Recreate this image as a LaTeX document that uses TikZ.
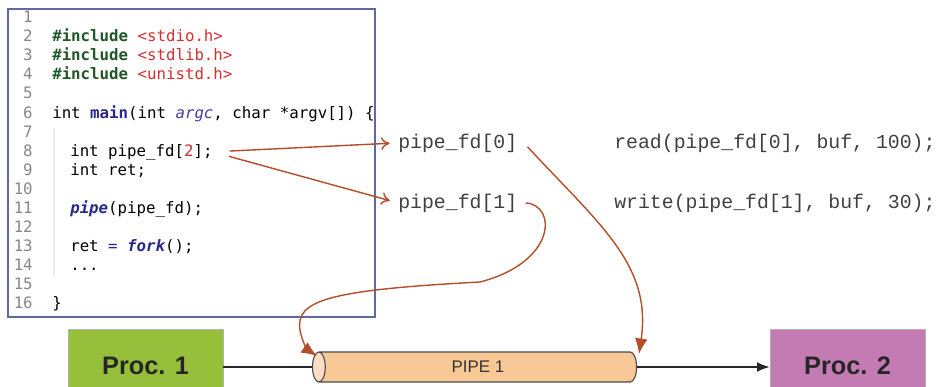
\documentclass[tikz,border=0pt]{standalone}
\usepackage{fontspec}
\setmainfont{Liberation Sans}
\newfontfamily\codefont{DejaVu Sans Mono}
\newfontfamily\courierfont{Liberation Mono}
\usetikzlibrary{shapes.geometric,arrows.meta,positioning,calc}
\usepackage{xcolor}
\definecolor{boxblue}{RGB}{92,106,160}
\definecolor{arrowred}{RGB}{180,78,42}
\definecolor{incgreen}{RGB}{32,88,40}
\definecolor{hdrred}{RGB}{212,48,48}
\definecolor{kwnavy}{RGB}{40,40,140}
\definecolor{argblue}{RGB}{72,62,160}
\definecolor{linegray}{RGB}{135,135,135}
\definecolor{procgreen}{RGB}{150,192,60}
\definecolor{procpurple}{RGB}{196,122,178}
\definecolor{pipebody}{RGB}{248,200,150}
\definecolor{pipeend}{RGB}{252,222,196}

\begin{document}
\begin{tikzpicture}[x=0.025cm,y=-0.025cm,
    codeline/.style={anchor=base west,inner sep=0pt,font=\codefont\fontsize{11.2}{13}\selectfont},
    lineno/.style={anchor=base east,inner sep=0pt,text=linegray,font=\codefont\fontsize{11.2}{13}\selectfont},
    fdtext/.style={anchor=base west,inner sep=0pt,text=black!75,font=\courierfont\fontsize{14.1}{16}\selectfont},
    procbox/.style={draw=gray!60,minimum width=3.875cm,minimum height=1.85cm,
        font=\bfseries\fontsize{18}{20}\selectfont,text=black!85},
    fdarrow/.style={arrowred,line width=1pt,-{To[length=6pt,width=9pt]}},
    pipearrow/.style={arrowred,line width=1pt,-{Latex[length=11pt,width=9pt]}}]
\clip (0,0) rectangle (940,387);
\useasboundingbox (0,0) rectangle (940,387);

% code listing
\node[draw=boxblue,fill=white,line width=0.8pt,minimum width=9.175cm,minimum height=7.7cm,
    inner sep=0pt] (codebox) at (191.5,163) {};
\draw[black!8,line width=0.8pt] (54,128) -- (54,277);
\foreach \n in {1,...,16}
    \node[lineno] (n\n) at (33,{23+(\n-1)*19}) {\n};
\node[codeline] (l2) at (52,42) {{\bfseries\color{incgreen}\#include} {\color{hdrred}<stdio.h>}};
\node[codeline] (l3) at (52,61) {{\bfseries\color{incgreen}\#include} {\color{hdrred}<stdlib.h>}};
\node[codeline] (l4) at (52,80) {{\bfseries\color{incgreen}\#include} {\color{hdrred}<unistd.h>}};
\node[codeline] (l6) at (52,118) {int {\bfseries\color{kwnavy}main}(int {\itshape\color{argblue}argc}, char *argv[]) \{};
\node[codeline] (l8) at (70,156) {int pipe\_fd[{\color{hdrred}2}];};
\node[codeline] (l9) at (70,175) {int ret;};
\node[codeline] (l11) at (70,213) {{\bfseries\itshape\color{kwnavy}pipe}(pipe\_fd);};
\node[codeline] (l13) at (70,251) {ret {\color{kwnavy}=} {\bfseries\itshape\color{kwnavy}fork}();};
\node[codeline] (l14) at (70,270) {...};
\node[codeline] (l16) at (52,308) {\}};

% descriptors and calls
\node[fdtext] (fd0) at (398,148) {pipe\_fd[0]};
\node[fdtext] (fd1) at (398,208) {pipe\_fd[1]};
\node[fdtext] (rd) at (614,148) {read(pipe\_fd[0], buf, 100);};
\node[fdtext] (wr) at (614,208) {write(pipe\_fd[1], buf, 30);};

% processes and pipe
\node[procbox,fill=procgreen] (proc1) at (145.5,366) {Proc. 1};
\node[procbox,fill=procpurple] (proc2) at (847.5,366) {Proc. 2};
\node[cylinder,shape border rotate=180,draw=black!70,line width=0.8pt,aspect=1.1,
    cylinder uses custom fill,cylinder body fill=pipebody,cylinder end fill=pipeend,
    minimum width=0.75cm,minimum height=8.1cm,inner sep=0pt,
    font=\fontsize{12}{14}\selectfont,text=black!80] (pipe) at (478,367) {PIPE 1};
\coordinate (pipein) at (317,356);
\coordinate (pipeout) at (639,354);

\draw[black!85,line width=1.2pt] (proc1.east |- pipe.west) -- (pipe.west);
\draw[black!85,line width=1.2pt,-{Latex[length=9pt,width=7pt]}] (pipe.east) -- (pipe.east -| proc2.west);

% arrows
\draw[fdarrow,shorten <=12pt,shorten >=6pt] (l8.east) -- (fd0.west);
\draw[fdarrow,shorten <=12pt,shorten >=6pt] (l8.east) -- (fd1.west);
\draw[pipearrow] ($(fd0.east)+(10,4)$) .. controls (600,225) and (652,265) .. (pipeout);
\draw[pipearrow] ($(fd1.east)+(8,0)$) .. controls (557,205) and (557,262) .. (480,282)
    .. controls (330,290) and (295,300) .. (300,330) .. controls (302,342) and (308,350) .. (pipein);
\end{tikzpicture}
\end{document}
